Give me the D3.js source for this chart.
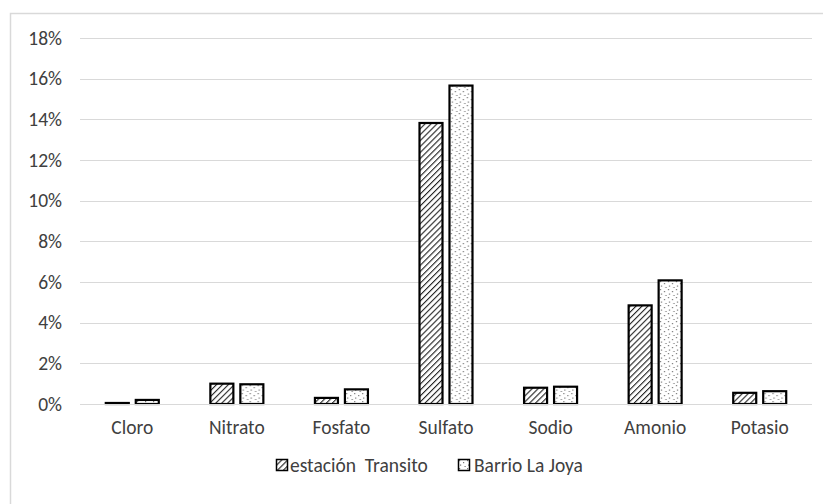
<!DOCTYPE html>
<html>
<head>
<meta charset="utf-8">
<script src="https://cdn.jsdelivr.net/npm/d3@7"></script>
<style>
  html, body { margin: 0; padding: 0; background: #fff; }
  svg { display: block; font-family: Carlito, Lato, "Open Sans", "Liberation Sans", sans-serif; }
</style>
</head>
<body>
<svg id="chart" width="823" height="504"></svg>
<script>
// Ion shares per site
const categories = ["Cloro", "Nitrato", "Fosfato", "Sulfato", "Sodio", "Amonio", "Potasio"];
const seriesNames = ["estación  Transito", "Barrio La Joya"];
const transito = [0.0005, 0.0100, 0.0030, 0.1382, 0.0080, 0.0485, 0.0055];
const laJoya   = [0.0020, 0.0097, 0.0072, 0.1566, 0.0085, 0.0608, 0.0063];
const yTicks = [0, 0.02, 0.04, 0.06, 0.08, 0.10, 0.12, 0.14, 0.16, 0.18];

const svg = d3.select("#chart");
const W = 823, H = 504;
const margin = { left: 80, right: 11, top: 38, bottom: 100 };
const fontSize = 19.5;
const fontFamily = 'Carlito, Lato, "Open Sans", "Liberation Sans", sans-serif';
const textColor = "#404040";

// outer frame
svg.append("rect")
  .attr("x", 10.5).attr("y", 13.5)
  .attr("width", W + 20).attr("height", H + 20)
  .attr("fill", "#fff").attr("stroke", "#d9d9d9").attr("stroke-width", 1.5);

// fill patterns
const defs = svg.append("defs");
const hatch = defs.append("pattern")
  .attr("id", "hatch").attr("patternUnits", "userSpaceOnUse")
  .attr("width", 4.2).attr("height", 4.2)
  .attr("patternTransform", "rotate(45)");
hatch.append("rect").attr("width", 4.2).attr("height", 4.2).attr("fill", "#fff");
hatch.append("line").attr("x1", 0).attr("y1", 0).attr("x2", 0).attr("y2", 4.2)
  .attr("stroke", "#222").attr("stroke-width", 2.2);

const dots = defs.append("pattern")
  .attr("id", "dots").attr("patternUnits", "userSpaceOnUse")
  .attr("width", 8).attr("height", 8);
dots.append("rect").attr("width", 8).attr("height", 8).attr("fill", "#fff");
[[1, 1], [5, 3], [2, 5.5], [6.5, 7]].forEach(([cx, cy]) =>
  dots.append("rect").attr("x", cx).attr("y", cy).attr("width", 1.2).attr("height", 1.2).attr("fill", "#777"));

const fills = ["url(#hatch)", "url(#dots)"];

const x = d3.scaleBand().domain(categories)
  .range([margin.left, W - margin.right]).paddingInner(0).paddingOuter(0);
const x1 = d3.scaleBand().domain([0, 1]).range([0, x.bandwidth()])
  .paddingInner(0.233).paddingOuter(0.86);
const y = d3.scaleLinear().domain([0, 0.18]).range([404, 38]);

// gridlines
svg.append("g").selectAll("line").data(yTicks.slice(1)).join("line")
  .attr("x1", margin.left).attr("x2", W - margin.right)
  .attr("y1", d => Math.round(y(d)) + 0.5).attr("y2", d => Math.round(y(d)) + 0.5)
  .attr("stroke", "#d9d9d9").attr("stroke-width", 1);

// y axis labels
const yAxis = d3.axisLeft(y).tickValues(yTicks).tickFormat(d3.format(".0%")).tickSize(0).tickPadding(0);
const yg = svg.append("g").attr("transform", `translate(${margin.left - 18},0)`).call(yAxis)
  .attr("font-family", fontFamily).attr("font-size", fontSize);
yg.select(".domain").remove();
yg.selectAll("text").attr("fill", textColor);

// bars
const series = [transito, laJoya];
const groups = svg.append("g").selectAll("g").data(categories).join("g")
  .attr("transform", d => `translate(${x(d)},0)`);
groups.selectAll("rect").data((d, i) => series.map((s, k) => ({ k, v: s[i] }))).join("rect")
  .attr("x", d => x1(d.k))
  .attr("width", x1.bandwidth())
  .attr("y", d => y(d.v))
  .attr("height", d => y(0) - y(d.v))
  .attr("fill", d => fills[d.k])
  .attr("stroke", "#000").attr("stroke-width", 2.2);

// baseline
svg.append("line").attr("x1", margin.left).attr("x2", W - margin.right)
  .attr("y1", 404.5).attr("y2", 404.5).attr("stroke", "#d9d9d9").attr("stroke-width", 1);

// x axis labels
const xAxis = d3.axisBottom(x).tickSize(0).tickPadding(0);
const xg = svg.append("g").attr("transform", "translate(0,420)").call(xAxis)
  .attr("font-family", fontFamily).attr("font-size", fontSize);
xg.select(".domain").remove();
xg.selectAll("text").attr("fill", textColor).attr("dy", "0.71em");

// legend
const legendX = [276, 458];
const legend = svg.append("g").selectAll("g").data(seriesNames).join("g")
  .attr("transform", (d, i) => `translate(${legendX[i]},459)`);
legend.append("rect").attr("x", 0.5).attr("y", 0.5).attr("width", 11).attr("height", 11)
  .attr("fill", (d, i) => fills[i]).attr("stroke", "#000").attr("stroke-width", 1.5);
legend.append("text").attr("x", (d, i) => i === 0 ? 14 : 16).attr("y", 12.5)
  .attr("font-size", fontSize).attr("fill", textColor)
  .attr("xml:space", "preserve").style("white-space", "pre")
  .text(d => d);
</script>
</body>
</html>
